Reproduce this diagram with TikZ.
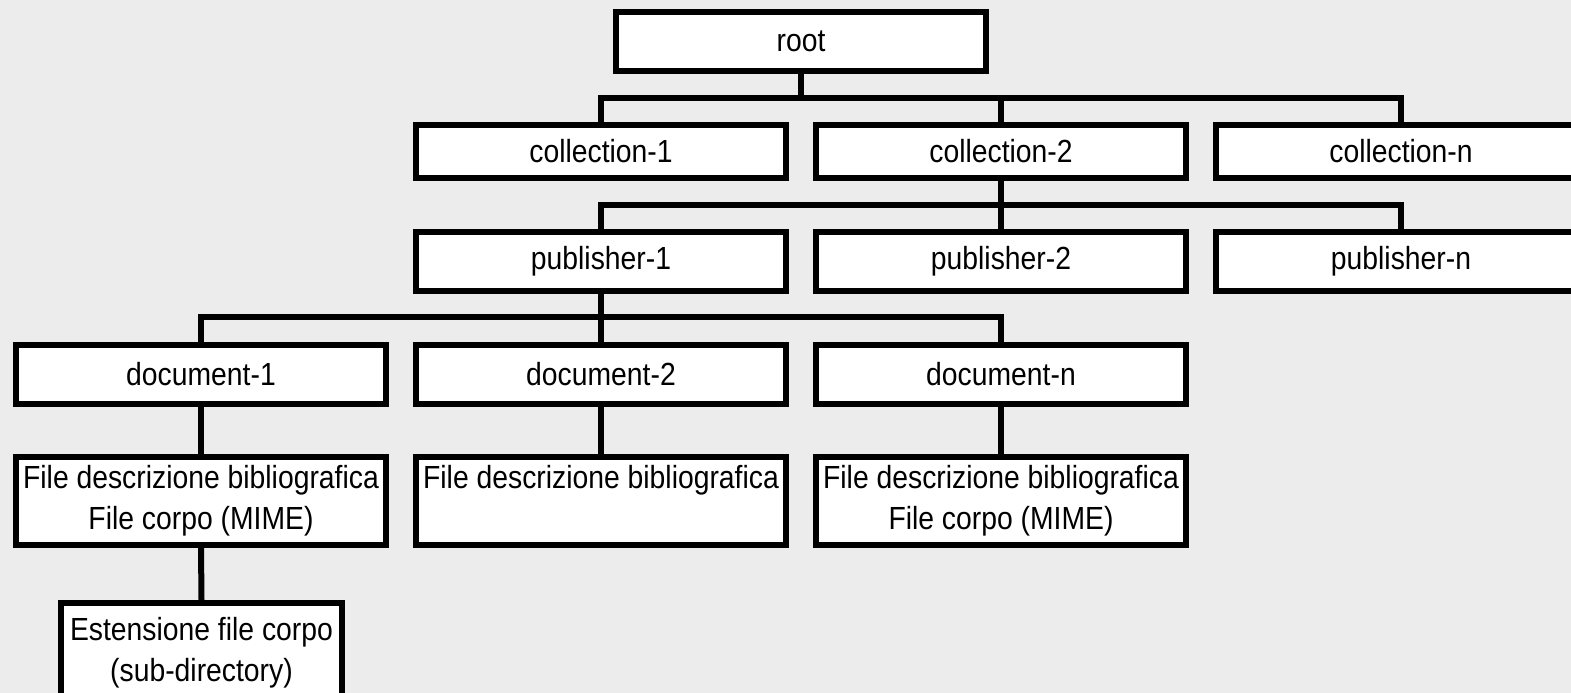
\documentclass[tikz,border=0pt]{standalone}
\usepackage{fontspec}
\newfontfamily\boxfont{Liberation Sans}[FakeStretch=0.885]
\definecolor{paper}{RGB}{236,236,236}
\begin{document}
\begin{tikzpicture}[x=1pt,y=-1pt,
  box/.style={draw=black, fill=white, line width=6pt, rectangle, inner sep=0pt,
    minimum width=370pt, minimum height=59pt, align=center,
    font=\boxfont\fontsize{32}{41}\selectfont},
  conn/.style={draw=black, line width=6pt, line join=miter}]
\useasboundingbox (0,0) rectangle (1571,693);
\fill[paper] (0,0) rectangle (1571,693);
\clip (0,0) rectangle (1571,693);

% nodes
\node[box] (root) at (801,41.7) {root};
\node[box, minimum height=53pt] (c1) at (601,151) {collection-1};
\node[box, minimum height=53pt] (c2) at (1001,151) {collection-2};
\node[box, minimum height=53pt] (cn) at (1401,151) {collection-n};
\node[box] (p1) at (601,261) {publisher-1};
\node[box] (p2) at (1001,261) {publisher-2};
\node[box] (pn) at (1401,261) {publisher-n};
\node[box] (d1) at (201,374.5) {document-1};
\node[box] (d2) at (601,374.5) {document-2};
\node[box] (dn) at (1001,374.5) {document-n};
\node[box, minimum height=88pt] (f1) at (201,501) {File descrizione bibliografica\\File corpo (MIME)};
\node[box, minimum height=88pt] (f2) at (601,501) {File descrizione bibliografica\\\vphantom{File corpo (MIME)}};
\node[box, minimum height=88pt] (fn) at (1001,501) {File descrizione bibliografica\\File corpo (MIME)};
\node[box, minimum width=281pt, minimum height=100pt] (e1) at (201.5,653) {Estensione file corpo\\(sub-directory)};

% connectors
\draw[conn] (root.south) -- (root.south |- 0,98);
\draw[conn] (c1.north) -- (c1.north |- 0,98) -- (cn.north |- 0,98) -- (cn.north);
\draw[conn] (c2.north) -- (c2.north |- 0,98);

\draw[conn] (c2.south) -- (c2.south |- 0,205);
\draw[conn] (p1.north) -- (p1.north |- 0,205) -- (pn.north |- 0,205) -- (pn.north);
\draw[conn] (p2.north) -- (p2.north |- 0,205);

\draw[conn] (p1.south) -- (p1.south |- 0,317);
\draw[conn] (d1.north) -- (d1.north |- 0,317) -- (dn.north |- 0,317) -- (dn.north);
\draw[conn] (d2.north) -- (d2.north |- 0,317);

\draw[conn] (d1.south) -- (f1.north);
\draw[conn] (d2.south) -- (f2.north);
\draw[conn] (dn.south) -- (fn.north);
\draw[conn] (f1.south) -- (e1.north);
\end{tikzpicture}
\end{document}
